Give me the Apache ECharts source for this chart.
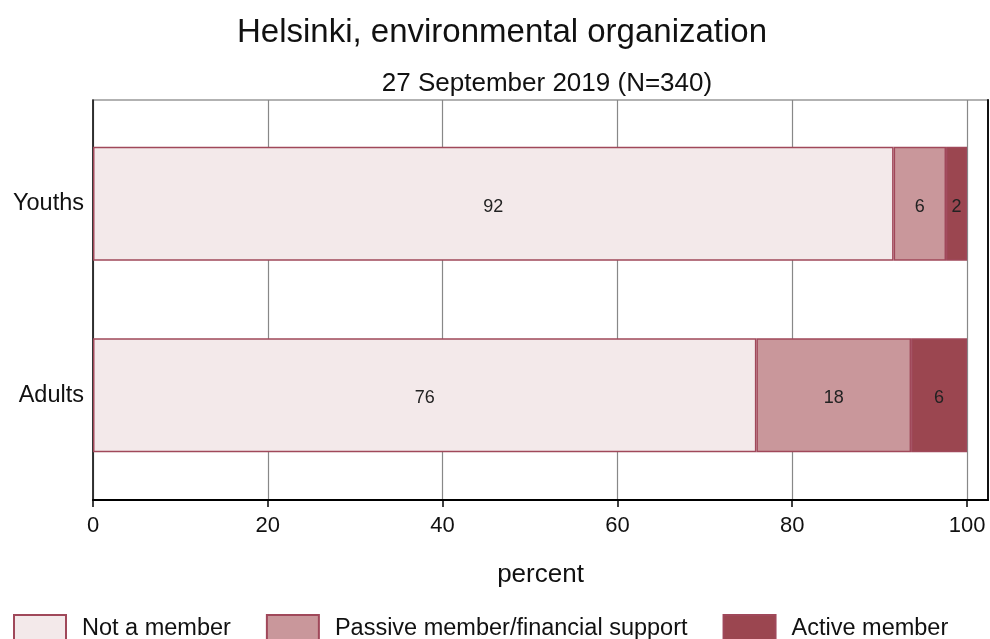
<!DOCTYPE html>
<html><head><meta charset="utf-8">
<script src="https://cdn.jsdelivr.net/npm/echarts@6/dist/echarts.min.js"></script>
<style>html,body{margin:0;padding:0;background:#fff}#c{width:990px;height:639px}</style>
</head><body><div id="c"></div>
<script>
const categories = ['Adults', 'Youths'];
const seriesNames = ['Not a member', 'Passive member/financial support', 'Active member'];
const notMember = [75.9, 91.6];
const passive = [17.7, 6.0];
const active = [6.4, 2.4];
const xTicks = [0, 20, 40, 60, 80, 100];

const FONT = '"Liberation Sans", Arial, sans-serif';
const fills = ['#f3e9ea', '#c9979b', '#9b4650'];
const border = '#a0485a';
const values = [notMember, passive, active];

const chart = echarts.init(document.getElementById('c'), null, {renderer: 'canvas'});
chart.setOption({
  animation: false,
  backgroundColor: '#fff',
  title: [
    {text: 'Helsinki, environmental organization', left: 497, textAlign: 'center', top: 11,
     textStyle: {fontFamily: FONT, fontSize: 33, fontWeight: 'normal', color: '#111'}},
    {text: '27 September 2019 (N=340)', left: 542, textAlign: 'center', top: 66,
     textStyle: {fontFamily: FONT, fontSize: 26, fontWeight: 'normal', color: '#111'}}
  ],
  legend: {
    left: 13, top: 614, padding: 0, itemWidth: 52, itemHeight: 28, itemGap: 35,
    icon: 'rect',
    textStyle: {fontFamily: FONT, fontSize: 23.5, color: '#111', padding: [0, 0, 0, 11]},
    data: seriesNames
  },
  grid: [
    {left: 93, right: 2, top: 108, bottom: 148, containLabel: false},
    {left: 93, right: 2, top: 100, bottom: 139, show: true, borderColor: '#999', borderWidth: 1.5, z: 0}
  ],
  xAxis: [
    {gridIndex: 0, type: 'value', min: 0, max: 102.4, show: false},
    {gridIndex: 1, type: 'value', min: 0, max: 102.4, interval: 20,
     name: 'percent', nameLocation: 'middle', nameGap: 62,
     nameTextStyle: {fontFamily: FONT, fontSize: 26, color: '#111'},
     axisLine: {show: true, lineStyle: {color: '#000', width: 2}},
     axisTick: {show: true, length: 7, lineStyle: {color: '#000', width: 1.5},
       customValues: xTicks},
     axisLabel: {fontFamily: FONT, fontSize: 22, color: '#111', margin: 15,
       customValues: xTicks, formatter: v => String(v)},
     splitLine: {show: true, lineStyle: {color: '#888', width: 1.2}}
    }
  ],
  yAxis: [
    {gridIndex: 0, type: 'category', data: categories,
     axisLine: {show: false}, axisTick: {show: false},
     axisLabel: {fontFamily: FONT, fontSize: 23.5, color: '#111', margin: 9, padding: [6, 0, 0, 0]}},
    {gridIndex: 1, type: 'value', min: 0, max: 1, position: 'left',
     axisLine: {show: true, lineStyle: {color: '#111', width: 1.5}},
     axisTick: {show: false}, axisLabel: {show: false}, splitLine: {show: false}},
    {gridIndex: 1, type: 'value', min: 0, max: 1, position: 'right',
     axisLine: {show: true, lineStyle: {color: '#111', width: 2}},
     axisTick: {show: false}, axisLabel: {show: false}, splitLine: {show: false}}
  ],
  series: seriesNames.map((name, i) => ({
    name, type: 'bar', stack: 'total', xAxisIndex: 0, yAxisIndex: 0,
    barWidth: 114, z: 3,
    itemStyle: {color: fills[i], borderColor: border, borderWidth: 1.5},
    label: {show: true, position: 'inside', offset: [0, 3], fontFamily: FONT, fontSize: 18, color: '#222',
      formatter: p => String(Math.round(p.value))},
    data: values[i]
  }))
});
</script></body></html>
